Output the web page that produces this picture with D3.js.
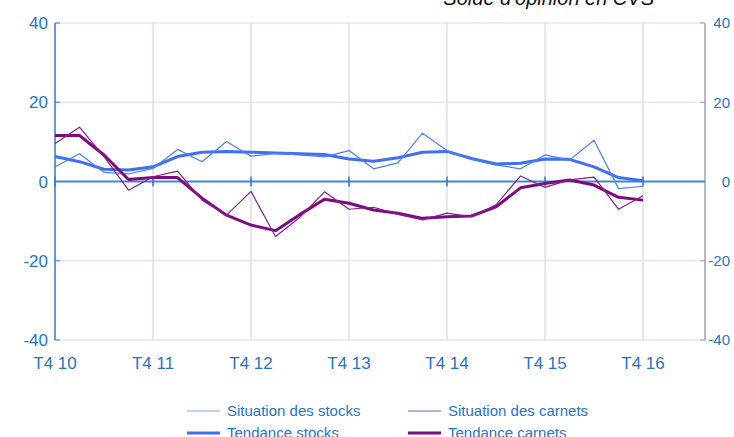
<!DOCTYPE html>
<html><head><meta charset="utf-8">
<script src="https://cdn.jsdelivr.net/npm/d3@7/dist/d3.min.js"></script>
<style>html,body{margin:0;padding:0;background:#fff;overflow:hidden}svg{display:block}text{font-family:"Liberation Sans",Arial,sans-serif}</style>
</head><body>
<svg id="c" width="734" height="437"></svg>
<script>
const categories = ["T4 10","T1 11","T2 11","T3 11","T4 11","T1 12","T2 12","T3 12","T4 12","T1 13","T2 13","T3 13","T4 13","T1 14","T2 14","T3 14","T4 14","T1 15","T2 15","T3 15","T4 15","T1 16","T2 16","T3 16","T4 16"];
const situationStocks = [3.7, 7.0, 2.3, 1.9, 3.3, 8.1, 5.0, 10.1, 6.4, 7.1, 6.7, 6.2, 7.8, 3.2, 4.7, 12.2, 7.8, 5.6, 4.2, 3.2, 6.7, 5.4, 10.4, -1.8, -1.2];
const tendanceStocks = [6.3, 5.0, 3.1, 2.9, 3.7, 6.3, 7.4, 7.6, 7.4, 7.2, 7.0, 6.8, 5.7, 5.1, 6.0, 7.4, 7.6, 5.8, 4.4, 4.6, 5.7, 5.6, 3.7, 1.0, 0.2];
const situationCarnets = [9.6, 13.7, 6.3, -2.2, 1.2, 2.6, -4.7, -8.5, -2.5, -13.9, -9.0, -2.6, -7.0, -6.5, -8.3, -9.7, -8.0, -8.9, -5.9, 1.4, -1.5, 0.4, 1.1, -7.0, -3.6];
const tendanceCarnets = [11.6, 11.6, 6.7, 0.5, 1.0, 1.0, -4.2, -8.5, -11.0, -12.4, -8.3, -4.5, -5.5, -7.2, -8.0, -9.3, -8.9, -8.7, -6.4, -1.6, -0.5, 0.4, -0.9, -4.0, -4.7];
const yTicks = [-40, -20, 0, 20, 40];
const xTickLabels = ["T4 10","T4 11","T4 12","T4 13","T4 14","T4 15","T4 16"];
const title = "Solde d'opinion en CVS";

const svg = d3.select("#c");
const L = 55, R = 705, T = 23, B = 340;
const x = d3.scaleLinear().domain([0, 26.53]).range([L, R]);
const y = d3.scaleLinear().domain([-40, 40]).range([B, T]);
const blueText = "#1f74cc";
const grid = "#d6d6f8";

// horizontal grid
svg.append("g").selectAll("line").data(yTicks.filter(v => v !== 0)).join("line")
  .attr("x1", L).attr("x2", R).attr("y1", d => y(d)).attr("y2", d => y(d))
  .attr("stroke", grid).attr("stroke-width", 1.2);
// vertical grid at T4 positions
const tickIdx = xTickLabels.map(l => categories.indexOf(l));
svg.append("g").selectAll("line").data(tickIdx.filter(i => i > 0)).join("line")
  .attr("x1", d => x(d)).attr("x2", d => x(d)).attr("y1", T).attr("y2", B)
  .attr("stroke", grid).attr("stroke-width", 1.2);

// left axis (blue) and right axis (grey)
svg.append("line").attr("x1", L).attr("x2", L).attr("y1", T).attr("y2", B).attr("stroke", "#2a7ad6").attr("stroke-width", 1.5);
svg.append("line").attr("x1", R).attr("x2", R).attr("y1", T).attr("y2", B).attr("stroke", "#a0a0b0").attr("stroke-width", 1.5);
svg.append("g").selectAll("line").data(yTicks).join("line")
  .attr("x1", L).attr("x2", L + 5).attr("y1", d => y(d)).attr("y2", d => y(d)).attr("stroke", "#2a7ad6");
svg.append("g").selectAll("line").data(yTicks).join("line")
  .attr("x1", R - 5).attr("x2", R).attr("y1", d => y(d)).attr("y2", d => y(d)).attr("stroke", "#a0a0b0");

// zero line
svg.append("line").attr("x1", L).attr("x2", R).attr("y1", y(0)).attr("y2", y(0)).attr("stroke", "#3a8ad8").attr("stroke-width", 2);
svg.append("g").selectAll("line").data(tickIdx).join("line")
  .attr("x1", d => x(d)).attr("x2", d => x(d)).attr("y1", y(0) - 5).attr("y2", y(0) + 5)
  .attr("stroke", "#2a78d0").attr("stroke-width", 1.5);

// y labels
svg.append("g").selectAll("text").data(yTicks).join("text")
  .attr("x", 48).attr("y", d => y(d)).attr("dy", "0.36em").attr("text-anchor", "end")
  .attr("font-size", 17).attr("fill", blueText).text(d => d);
svg.append("g").selectAll("text").data(yTicks).join("text")
  .attr("x", 730).attr("y", d => y(d)).attr("dy", "0.36em").attr("text-anchor", "end")
  .attr("font-size", 15).attr("fill", blueText).text(d => d);

// x labels
svg.append("g").selectAll("text").data(xTickLabels).join("text")
  .attr("x", d => x(categories.indexOf(d))).attr("y", 369).attr("text-anchor", "middle")
  .attr("font-size", 17).attr("fill", blueText).text(d => d);

// lines
const line = d3.line().x((d, i) => x(i)).y(d => y(d));
function drawLine(data, color, w) {
  svg.append("path").datum(data).attr("d", line).attr("fill", "none")
    .attr("stroke", color).attr("stroke-width", w).attr("stroke-linejoin", "round");
}
drawLine(tendanceStocks, "#3f6ff2", 3);
drawLine(situationStocks, "#4a7ff2", 1.2);
drawLine(tendanceCarnets, "#7e0a80", 3);
drawLine(situationCarnets, "#8a1d8c", 1.2);

// title
svg.append("text").attr("x", 654).attr("y", 5).attr("text-anchor", "end")
  .attr("font-size", 20).attr("font-style", "italic").attr("fill", "#111").text(title);

// legend
const legend = [
  {label: "Situation des stocks", color: "#7fa2f2", w: 1.2, lx: 187, row: 0},
  {label: "Situation des carnets", color: "#a050a8", w: 1.2, lx: 408, row: 0},
  {label: "Tendance stocks", color: "#3f6ff2", w: 3, lx: 187, row: 1},
  {label: "Tendance carnets", color: "#7e0a80", w: 3, lx: 408, row: 1}
];
const lg = svg.append("g").selectAll("g").data(legend).join("g");
lg.append("line").attr("x1", d => d.lx).attr("x2", d => d.lx + 33)
  .attr("y1", d => 411 + d.row * 22).attr("y2", d => 411 + d.row * 22)
  .attr("stroke", d => d.color).attr("stroke-width", d => d.w);
lg.append("text").attr("x", d => d.lx + 40).attr("y", d => 411 + d.row * 22).attr("dy", "0.36em")
  .attr("font-size", 15).attr("fill", blueText).text(d => d.label);
</script>
</body></html>
